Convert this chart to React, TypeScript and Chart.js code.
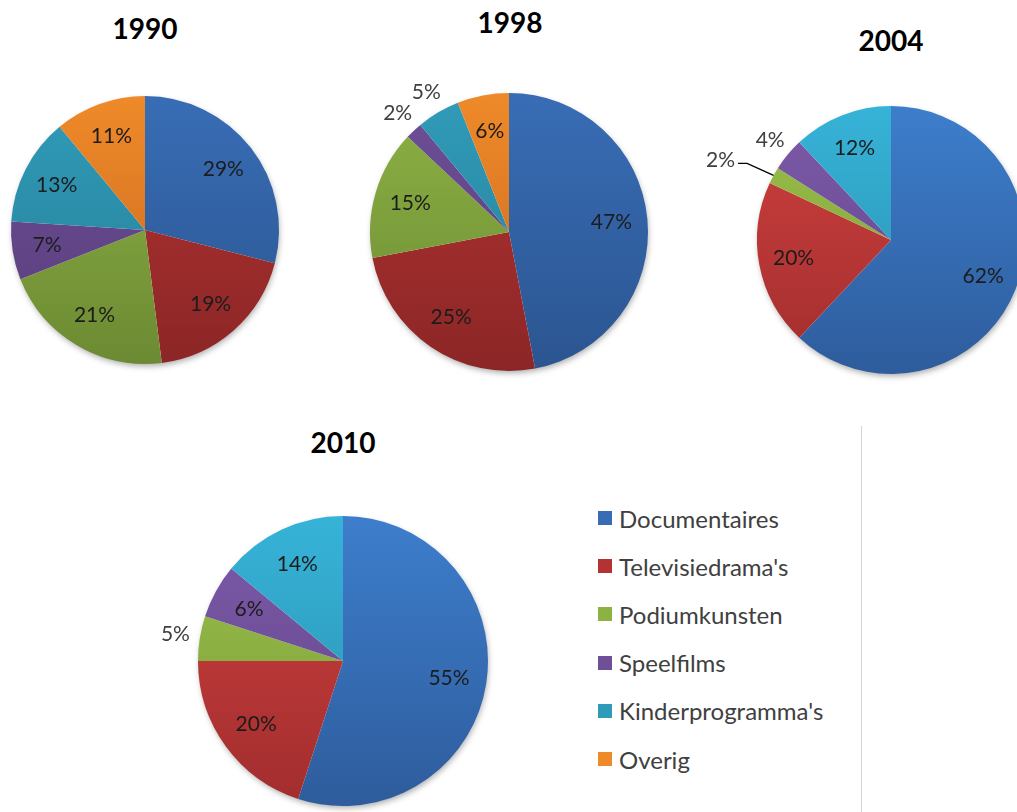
import React, { useEffect, useRef } from "react";
import { Chart, registerables } from "chart.js";

Chart.register(...registerables);

const categories = [
  "Documentaires",
  "Televisiedrama's",
  "Podiumkunsten",
  "Speelfilms",
  "Kinderprogramma's",
  "Overig",
];

const values1990 = [29, 19, 21, 7, 13, 11];
const values1998 = [47, 25, 15, 2, 5, 6];
const values2004 = [62, 20, 2, 4, 12, 0];
const values2010 = [55, 20, 5, 6, 14, 0];

const years = ["1990", "1998", "2004", "2010"];

// [top, bottom] gradient colours
const paletteA = [
  ["#386DB5", "#2B5591"],
  ["#B23332", "#8C2626"],
  ["#8DB244", "#6C8A33"],
  ["#6E4F98", "#573D7A"],
  ["#309BB9", "#267E96"],
  ["#EF8A2A", "#C8661C"],
];
const paletteB = [
  ["#3D7ECC", "#2E5C9C"],
  ["#CF4140", "#A22D2D"],
  ["#9BC24B", "#7A9A38"],
  ["#7D5AAA", "#604487"],
  ["#36B3D8", "#2A8FAE"],
  ["#F59230", "#CC6E20"],
];

const FONT = "Lato, 'Open Sans', 'DejaVu Sans', sans-serif";

const pieShadow = {
  id: "pieShadow",
  beforeDatasetsDraw(chart: any) {
    const meta = chart.getDatasetMeta(0);
    const arc = meta.data[0];
    if (!arc) return;
    const p = arc.getProps(["x", "y", "outerRadius"], true);
    const ctx = chart.ctx;
    ctx.save();
    ctx.shadowColor = "rgba(0,0,0,0.35)";
    ctx.shadowBlur = 6;
    ctx.shadowOffsetX = 1;
    ctx.shadowOffsetY = 3;
    ctx.fillStyle = "#ffffff";
    ctx.beginPath();
    ctx.arc(p.x, p.y, p.outerRadius - 1, 0, Math.PI * 2);
    ctx.fill();
    ctx.restore();
  },
};

const pctLabels = {
  id: "pctLabels",
  afterDatasetsDraw(chart: any, _args: any, opts: any) {
    const ctx = chart.ctx;
    const meta = chart.getDatasetMeta(0);
    const data = chart.data.datasets[0].data as number[];
    ctx.save();
    ctx.font = `21px ${FONT}`;
    ctx.textAlign = "center";
    ctx.textBaseline = "middle";
    meta.data.forEach((arc: any, i: number) => {
      const v = data[i];
      if (!v) return;
      const p = arc.getProps(["x", "y", "startAngle", "endAngle", "outerRadius"], true);
      const mid = (p.startAngle + p.endAngle) / 2;
      const R = p.outerRadius;
      const outside = v <= 5;
      const leader = opts && opts.leader && opts.leader.index === i ? opts.leader : null;
      if (leader) {
        const ex = p.x + Math.cos(mid) * R;
        const ey = p.y + Math.sin(mid) * R;
        const lx = ex + leader.dx;
        const ly = ey + leader.dy;
        ctx.fillStyle = "#404040";
        ctx.fillText(v + "%", lx, ly);
        const w = ctx.measureText(v + "%").width;
        ctx.strokeStyle = "#000000";
        ctx.lineWidth = 1.3;
        ctx.beginPath();
        ctx.moveTo(lx + w / 2 + 3, ly + 3);
        ctx.lineTo(lx + w / 2 + 12, ly + 3);
        ctx.lineTo(ex, ey);
        ctx.stroke();
        return;
      }
      const f = outside ? 1.17 : 0.74;
      const lx = p.x + Math.cos(mid) * R * f;
      const ly = p.y + Math.sin(mid) * R * f;
      ctx.fillStyle = outside ? "#404040" : "#1c1c1c";
      ctx.fillText(v + "%", lx, ly);
    });
    ctx.restore();
  },
};

type PieProps = {
  values: number[];
  palette: string[][];
  cx: number;
  cy: number;
  r: number;
  leader?: { index: number; dx: number; dy: number };
};

const PAD = 80;

function Pie({ values, palette, cx, cy, r, leader }: PieProps) {
  const ref = useRef<HTMLCanvasElement>(null);
  useEffect(() => {
    if (!ref.current) return;
    const chart = new Chart(ref.current, {
      type: "pie",
      data: {
        labels: categories,
        datasets: [
          {
            data: values,
            borderWidth: 0,
            hoverOffset: 0,
            backgroundColor: (c: any) => {
              const ch = c.chart;
              const area = ch.chartArea;
              const pair = palette[c.dataIndex] || palette[0];
              if (!area) return pair[0];
              const g = ch.ctx.createLinearGradient(0, area.top, 0, area.bottom);
              g.addColorStop(0, pair[0]);
              g.addColorStop(1, pair[1]);
              return g;
            },
          },
        ],
      },
      options: {
        responsive: false,
        animation: false,
        layout: { padding: PAD },
        plugins: {
          legend: { display: false },
          tooltip: { enabled: false },
          title: { display: false },
          pctLabels: { leader },
        } as any,
      },
      plugins: [pieShadow, pctLabels],
    });
    return () => chart.destroy();
  }, []);
  const size = 2 * (r + PAD);
  return (
    <canvas
      ref={ref}
      width={size}
      height={size}
      style={{ position: "absolute", left: cx - r - PAD, top: cy - r - PAD, width: size, height: size }}
    />
  );
}

function Title({ text, x, y }: { text: string; x: number; y: number }) {
  return (
    <div
      style={{
        position: "absolute",
        left: x - 60,
        top: y - 18,
        width: 120,
        height: 36,
        lineHeight: "36px",
        textAlign: "center",
        fontFamily: FONT,
        fontWeight: 700,
        fontSize: 28,
        color: "#000",
      }}
    >
      {text}
    </div>
  );
}

export default function App() {
  const legendColors = paletteA.map((p) => p[0]);
  return (
    <div
      style={{
        position: "absolute",
        left: 0,
        top: 0,
        width: 1017,
        height: 812,
        overflow: "hidden",
        background: "#fff",
      }}
    >
      <Title text={years[0]} x={145} y={28} />
      <Title text={years[1]} x={510} y={22} />
      <Title text={years[2]} x={891} y={40} />
      <Title text={years[3]} x={343} y={442} />
      <Pie values={values1990} palette={paletteA} cx={145} cy={230} r={134} />
      <Pie values={values1998} palette={paletteA} cx={509} cy={232} r={139} />
      <Pie
        values={values2004}
        palette={paletteB}
        cx={891}
        cy={240}
        r={134}
        leader={{ index: 2, dx: -53, dy: -15 }}
      />
      <Pie values={values2010} palette={paletteB} cx={343} cy={661} r={145} />
      <div
        style={{
          position: "absolute",
          left: 861,
          top: 426,
          width: 1,
          height: 400,
          background: "#d4d4d4",
        }}
      />
      {categories.map((c, i) => (
        <div
          key={c}
          style={{
            position: "absolute",
            left: 598,
            top: 518 + i * 48.2 - 16,
            height: 32,
            display: "flex",
            alignItems: "center",
            fontFamily: FONT,
            fontSize: 24,
            color: "#404040",
            whiteSpace: "nowrap",
          }}
        >
          <span
            style={{
              display: "inline-block",
              width: 14,
              height: 14,
              background: legendColors[i],
              marginRight: 7,
            }}
          />
          {c}
        </div>
      ))}
    </div>
  );
}
